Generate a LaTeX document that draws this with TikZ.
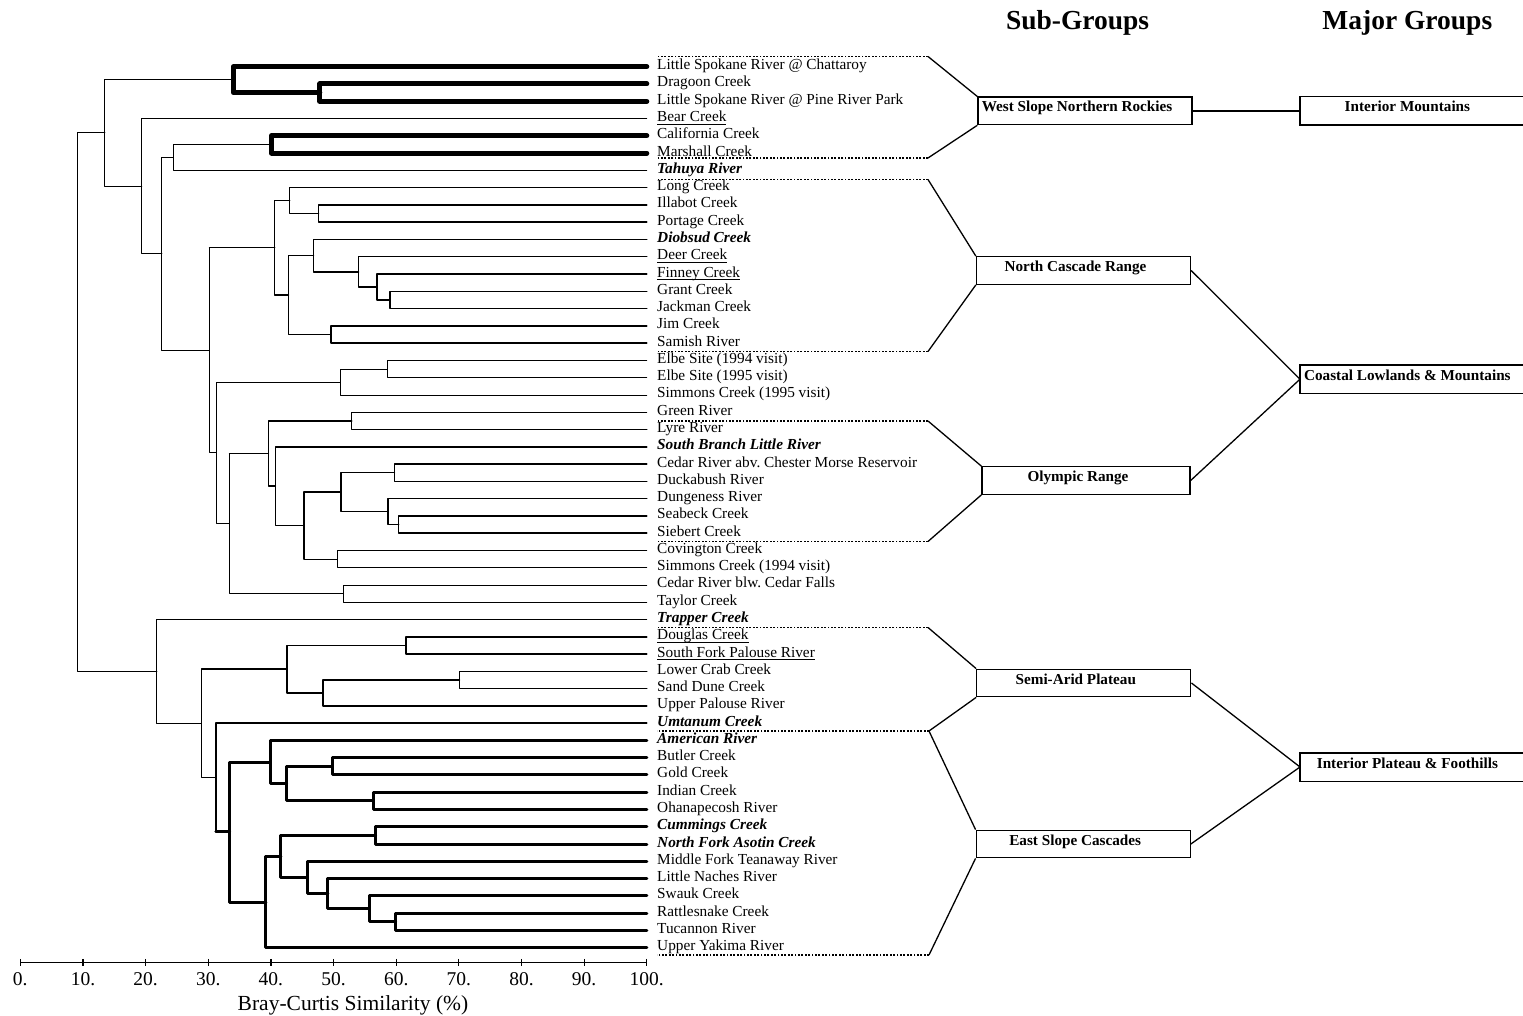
\documentclass[tikz,border=0pt]{standalone}
\usepackage{fontspec}
\setmainfont{Liberation Serif}
\usepackage{tikz}
\frenchspacing
\newcommand{\lf}{\fontsize{7.65pt}{9pt}\selectfont}
\newcommand{\undl}[1]{\underline{\smash{#1}}}
\newcommand{\bi}[1]{\textbf{\textit{#1}}}
\tikzset{
    tn/.style   ={line width=0.4pt, line cap=round, line join=round},
    md/.style   ={line width=0.75pt, line cap=round, line join=round},
    tk/.style   ={line width=1.5pt, line cap=round, line join=round},
    vk/.style   ={line width=2.5pt, line cap=round, line join=round},
    leaf/.style ={anchor=base west, xshift=5pt, yshift=-1.5pt, inner sep=0pt, font=\lf},
    brk/.style  ={line width=0.75pt, dash pattern=on 0.9pt off 0.8pt},
    boxln/.style={line width=0.65pt},
    sgbox/.style={boxln, draw, minimum width=107pt, minimum height=13.75pt,
                  inner ysep=1pt, text height=5pt, text depth=4pt,
                  font=\fontsize{7.6pt}{9pt}\selectfont\bfseries,
                  execute at begin node={\hspace*{-8pt}}},
    mgbox/.style={anchor=west, minimum width=107pt, inner xsep=0pt,
                  inner ysep=1pt, minimum height=13.75pt, text height=5pt, text depth=4pt,
                  font=\fontsize{7.6pt}{9pt}\selectfont\bfseries},
    ttl/.style  ={anchor=base, inner sep=0pt, font=\fontsize{13.75pt}{16pt}\selectfont\bfseries},
    axln/.style ={line width=0.6pt},
    tick/.style ={anchor=base, inner sep=0pt, font=\fontsize{9.75pt}{11pt}\selectfont},
    axttl/.style={anchor=base, inner sep=0pt, font=\fontsize{10.75pt}{12pt}\selectfont}
}

\begin{document}
\begin{tikzpicture}[x=0.5pt, y=-0.5pt]
  \useasboundingbox (0,0) rectangle (1523,1016);
  \clip (0,0) rectangle (1523,1016);

  \begin{scope}[shift={(20.3,49.43)}, x=3.1325pt, y=-8.6375pt]
  % leaves
  \path (100,1)  coordinate (l1)  node[leaf] (t1)  {Little Spokane River @ Chattaroy};
  \path (100,2)  coordinate (l2)  node[leaf] (t2)  {Dragoon Creek};
  \path (100,3)  coordinate (l3)  node[leaf] (t3)  {Little Spokane River @ Pine River Park};
  \path (100,4)  coordinate (l4)  node[leaf] (t4)  {\undl{Bear Creek}};
  \path (100,5)  coordinate (l5)  node[leaf] (t5)  {California Creek};
  \path (100,6)  coordinate (l6)  node[leaf] (t6)  {Marshall Creek};
  \path (100,7)  coordinate (l7)  node[leaf] (t7)  {\bi{Tahuya River}};
  \path (100,8)  coordinate (l8)  node[leaf] (t8)  {Long Creek};
  \path (100,9)  coordinate (l9)  node[leaf] (t9)  {Illabot Creek};
  \path (100,10) coordinate (l10) node[leaf] (t10) {Portage Creek};
  \path (100,11) coordinate (l11) node[leaf] (t11) {\bi{Diobsud Creek}};
  \path (100,12) coordinate (l12) node[leaf] (t12) {\undl{Deer Creek}};
  \path (100,13) coordinate (l13) node[leaf] (t13) {\undl{Finney Creek}};
  \path (100,14) coordinate (l14) node[leaf] (t14) {Grant Creek};
  \path (100,15) coordinate (l15) node[leaf] (t15) {Jackman Creek};
  \path (100,16) coordinate (l16) node[leaf] (t16) {Jim Creek};
  \path (100,17) coordinate (l17) node[leaf] (t17) {Samish River};
  \path (100,18) coordinate (l18) node[leaf] (t18) {Elbe Site (1994 visit)};
  \path (100,19) coordinate (l19) node[leaf] (t19) {Elbe Site (1995 visit)};
  \path (100,20) coordinate (l20) node[leaf] (t20) {Simmons Creek (1995 visit)};
  \path (100,21) coordinate (l21) node[leaf] (t21) {Green River};
  \path (100,22) coordinate (l22) node[leaf] (t22) {Lyre River};
  \path (100,23) coordinate (l23) node[leaf] (t23) {\bi{South Branch Little River}};
  \path (100,24) coordinate (l24) node[leaf] (t24) {Cedar River abv. Chester Morse Reservoir};
  \path (100,25) coordinate (l25) node[leaf] (t25) {Duckabush River};
  \path (100,26) coordinate (l26) node[leaf] (t26) {Dungeness River};
  \path (100,27) coordinate (l27) node[leaf] (t27) {Seabeck Creek};
  \path (100,28) coordinate (l28) node[leaf] (t28) {Siebert Creek};
  \path (100,29) coordinate (l29) node[leaf] (t29) {Covington Creek};
  \path (100,30) coordinate (l30) node[leaf] (t30) {Simmons Creek (1994 visit)};
  \path (100,31) coordinate (l31) node[leaf] (t31) {Cedar River blw. Cedar Falls};
  \path (100,32) coordinate (l32) node[leaf] (t32) {Taylor Creek};
  \path (100,33) coordinate (l33) node[leaf] (t33) {\bi{Trapper Creek}};
  \path (100,34) coordinate (l34) node[leaf] (t34) {\undl{Douglas Creek}};
  \path (100,35) coordinate (l35) node[leaf] (t35) {\undl{South Fork Palouse River}};
  \path (100,36) coordinate (l36) node[leaf] (t36) {Lower Crab Creek};
  \path (100,37) coordinate (l37) node[leaf] (t37) {Sand Dune Creek};
  \path (100,38) coordinate (l38) node[leaf] (t38) {Upper Palouse River};
  \path (100,39) coordinate (l39) node[leaf] (t39) {\bi{Umtanum Creek}};
  \path (100,40) coordinate (l40) node[leaf] (t40) {\bi{American River}};
  \path (100,41) coordinate (l41) node[leaf] (t41) {Butler Creek};
  \path (100,42) coordinate (l42) node[leaf] (t42) {Gold Creek};
  \path (100,43) coordinate (l43) node[leaf] (t43) {Indian Creek};
  \path (100,44) coordinate (l44) node[leaf] (t44) {Ohanapecosh River};
  \path (100,45) coordinate (l45) node[leaf] (t45) {\bi{Cummings Creek}};
  \path (100,46) coordinate (l46) node[leaf] (t46) {\bi{North Fork Asotin Creek}};
  \path (100,47) coordinate (l47) node[leaf] (t47) {Middle Fork Teanaway River};
  \path (100,48) coordinate (l48) node[leaf] (t48) {Little Naches River};
  \path (100,49) coordinate (l49) node[leaf] (t49) {Swauk Creek};
  \path (100,50) coordinate (l50) node[leaf] (t50) {Rattlesnake Creek};
  \path (100,51) coordinate (l51) node[leaf] (t51) {Tucannon River};
  \path (100,52) coordinate (l52) node[leaf] (t52) {Upper Yakima River};

  % merge points (similarity, row)
  \coordinate (n23)   at (47.8,2.5);
  \coordinate (n123)  at (34.0,1.75);
  \coordinate (n56)   at (40.1,5.5);
  \coordinate (n567)  at (24.4,6.25);
  \coordinate (n910)  at (47.6,9.5);
  \coordinate (n8910) at (43.0,8.75);
  \coordinate (n1415) at (59.0,14.5);
  \coordinate (n1315) at (56.9,13.75);
  \coordinate (n1215) at (54.0,12.875);
  \coordinate (n1115) at (46.8,11.94);
  \coordinate (n1617) at (49.6,16.5);
  \coordinate (n1117) at (42.8,14.22);
  \coordinate (n817)  at (40.6,11.48);
  \coordinate (n1819) at (58.6,18.5);
  \coordinate (n1820) at (51.1,19.25);
  \coordinate (n2122) at (52.9,21.5);
  \coordinate (n2728) at (60.4,27.5);
  \coordinate (n2628) at (58.7,26.75);
  \coordinate (n2425) at (59.7,24.5);
  \coordinate (n2428) at (51.2,25.625);
  \coordinate (n2930) at (50.6,29.5);
  \coordinate (n2430) at (45.3,27.56);
  \coordinate (n2330) at (40.7,25.28);
  \coordinate (n2130) at (39.6,23.39);
  \coordinate (n3132) at (51.6,31.5);
  \coordinate (n2132) at (33.4,27.45);
  \coordinate (n1832) at (31.3,23.35);
  \coordinate (n832)  at (30.2,17.42);
  \coordinate (n532)  at (22.6,11.83);
  \coordinate (n432)  at (19.4,7.92);
  \coordinate (n132)  at (13.5,4.83);
  \coordinate (n3435) at (61.6,34.5);
  \coordinate (n3637) at (70.1,36.5);
  \coordinate (n3638) at (48.3,37.25);
  \coordinate (n3438) at (42.6,35.875);
  \coordinate (n4142) at (49.8,41.5);
  \coordinate (n4344) at (56.3,43.5);
  \coordinate (n4144) at (42.5,42.5);
  \coordinate (n4044) at (39.9,41.25);
  \coordinate (n4546) at (56.7,45.5);
  \coordinate (n5051) at (59.9,50.5);
  \coordinate (n4951) at (55.7,49.75);
  \coordinate (n4851) at (49.1,48.875);
  \coordinate (n4751) at (45.8,47.94);
  \coordinate (n4551) at (41.6,46.72);
  \coordinate (n4552) at (39.2,49.36);
  \coordinate (n4052) at (33.4,45.3);
  \coordinate (n3952) at (31.2,42.15);
  \coordinate (n3452) at (28.9,39.01);
  \coordinate (n3352) at (21.8,36.01);
  \coordinate (root)  at (9.1,20.42);

  % west slope northern rockies
  \draw[vk] (n23) |- (l2) (n23) |- (l3);
  \draw[vk] (n123) |- (l1) (n123) |- (n23);
  \draw[vk] (n56) |- (l5) (n56) |- (l6);
  \draw[tn] (n567) |- (n56) (n567) |- (l7);

  % north cascade range
  \draw[md] (n910) |- (l9) (n910) |- (l10);
  \draw[md] (n8910) |- (l8) (n8910) |- (n910);
  \draw[md] (n1415) |- (l14) (n1415) |- (l15);
  \draw[md] (n1315) |- (l13) (n1315) |- (n1415);
  \draw[md] (n1215) |- (l12) (n1215) |- (n1315);
  \draw[md] (n1115) |- (l11) (n1115) |- (n1215);
  \draw[md] (n1617) |- (l16) (n1617) |- (l17);
  \draw[md] (n1117) |- (n1115) (n1117) |- (n1617);
  \draw[md] (n817) |- (n8910) (n817) |- (n1117);

  % elbe / simmons
  \draw[tn] (n1819) |- (l18) (n1819) |- (l19);
  \draw[tn] (n1820) |- (n1819) (n1820) |- (l20);

  % olympic range
  \draw[tn] (n2122) |- (l21);
  \draw[md] (n2122) |- (l22);
  \draw[md] (n2728) |- (l27) (n2728) |- (l28);
  \draw[md] (n2628) |- (l26) (n2628) |- (n2728);
  \draw[md] (n2425) |- (l24) (n2425) |- (l25);
  \draw[md] (n2428) |- (n2425) (n2428) |- (n2628);
  \draw[tn] (n2930) |- (l29) (n2930) |- (l30);
  \draw[md] (n2430) |- (n2428) (n2430) -- (n2430 |- n2930);
  \draw[tn] (n2430 |- n2930) -- (n2930);
  \draw[md] (n2330) |- (l23) (n2330) |- (n2430);
  \draw[md] (n2130) |- (n2122) (n2130) |- (n2330);
  \draw[tn] (n3132) |- (l31) (n3132) |- (l32);
  \draw[tn] (n2132) -- (n2132 |- n2130) (n2132) |- (n3132);
  \draw[md] (n2132 |- n2130) -- (n2130);
  \draw[tn] (n1832) |- (n1820) (n1832) |- (n2132);
  \draw[tn] (n832) -- (n832 |- n817) (n832) |- (n1832);
  \draw[md] (n832 |- n817) -- (n817);
  \draw[tn] (n532) |- (n567) (n532) |- (n832);
  \draw[tn] (n432) |- (l4) (n432) |- (n532);
  \draw[tn] (n132) |- (n123) (n132) |- (n432);

  % semi-arid plateau
  \draw[md] (n3435) |- (l34) (n3435) |- (l35);
  \draw[md] (n3637) |- (l36) (n3637) |- (l37);
  \draw[md] (n3638) |- (n3637) (n3638) |- (l38);
  \draw[md] (n3438) |- (n3435) (n3438) |- (n3638);

  % east slope cascades
  \draw[tk] (n4142) |- (l41) (n4142) |- (l42);
  \draw[tk] (n4344) |- (l43) (n4344) |- (l44);
  \draw[tk] (n4144) |- (n4142) (n4144) |- (n4344);
  \draw[tk] (n4044) |- (l40) (n4044) |- (n4144);
  \draw[tk] (n4546) |- (l45) (n4546) |- (l46);
  \draw[tk] (n5051) |- (l50) (n5051) |- (l51);
  \draw[tk] (n4951) |- (l49) (n4951) |- (n5051);
  \draw[tk] (n4851) |- (l48) (n4851) |- (n4951);
  \draw[tk] (n4751) |- (l47) (n4751) |- (n4851);
  \draw[tk] (n4551) |- (n4546) (n4551) |- (n4751);
  \draw[tk] (n4552) |- (n4551) (n4552) |- (l52);
  \draw[tk] (n4052) |- (n4044) (n4052) |- (n4552);
  \draw[md] (n3952) |- (l39) (n3952) -- (n3952 |- n4052);
  \draw[tk] (n3952 |- n4052) -- (n4052);
  \draw[md] (n3452) |- (n3438) (n3452) |- (n3952);
  \draw[tn] (n3352) |- (l33) (n3352) |- (n3452);
  \draw[tn] (root) |- (n132) (root) |- (n3352);

  % similarity axis
  \draw[axln] (0,52.867) -- (100,52.867)
    (0,52.65) -- (0,53.06)   (10,52.65) -- (10,53.06) (20,52.65) -- (20,53.06)
    (30,52.65) -- (30,53.06) (40,52.65) -- (40,53.06) (50,52.65) -- (50,53.06)
    (60,52.65) -- (60,53.06) (70,52.65) -- (70,53.06) (80,52.65) -- (80,53.06)
    (90,52.65) -- (90,53.06) (100,52.65) -- (100,53.06);
  \node[tick] (x0)   at (0,54.21)   {0.};
  \node[tick] (x10)  at (10,54.21)  {10.};
  \node[tick] (x20)  at (20,54.21)  {20.};
  \node[tick] (x30)  at (30,54.21)  {30.};
  \node[tick] (x40)  at (40,54.21)  {40.};
  \node[tick] (x50)  at (50,54.21)  {50.};
  \node[tick] (x60)  at (60,54.21)  {60.};
  \node[tick] (x70)  at (70,54.21)  {70.};
  \node[tick] (x80)  at (80,54.21)  {80.};
  \node[tick] (x90)  at (90,54.21)  {90.};
  \node[tick] (x100) at (100,54.21) {100.};
  \node[axttl] (axname) at (53.1,55.61) {Bray-Curtis Similarity (\%)};
  \end{scope}

  % group brackets
  \coordinate (ws1) at (928,56.5);  \coordinate (ws2) at (928,158);
  \coordinate (nc1) at (928,179.5); \coordinate (nc2) at (928,351.5);
  \coordinate (ol1) at (928,421);   \coordinate (ol2) at (928,541.5);
  \coordinate (sa1) at (928,627.5); \coordinate (sa2) at (929,731);
  \coordinate (es2) at (929,955);
  \draw[brk] (ws1) -- ++(-271,0) (ws2) -- ++(-271,0);
  \draw[brk] (nc1) -- ++(-271,0) (nc2) -- ++(-271,0);
  \draw[brk] (ol1) -- ++(-271,0) (ol2) -- ++(-271,0);
  \draw[brk] (sa1) -- ++(-271,0) (sa2) -- ++(-272,0);
  \draw[brk] (es2) -- ++(-272,0);

  % titles
  \node[ttl] (subttl) at (1077.6,30) {Sub-Groups};
  \node[ttl] (majttl) at (1407.3,30) {Major Groups};

  % sub-groups
  \node[sgbox] (wsnr) at (1085,110.9)  {West Slope Northern Rockies};
  \node[sgbox] (ncr)  at (1083.5,270.5) {North Cascade Range};
  \node[sgbox, minimum width=104pt] (oly) at (1086,480.5) {Olympic Range};
  \node[sgbox] (sap)  at (1083.8,683)  {Semi-Arid Plateau};
  \node[sgbox] (esc)  at (1083.2,844)  {East Slope Cascades};

  % major groups (open to the right edge)
  \node[mgbox] (imt) at (1300,110.9) {Interior Mountains};
  \node[mgbox] (clm) at (1300,379.2) {Coastal Lowlands \& Mountains};
  \node[mgbox] (ipf) at (1300,767)   {Interior Plateau \& Foothills};
  \draw[boxln] ([xshift=30pt]imt.north east) -| (imt.south west) -- ([xshift=30pt]imt.south east);
  \draw[boxln] ([xshift=30pt]clm.north east) -| (clm.south west) -- ([xshift=30pt]clm.south east);
  \draw[boxln] ([xshift=30pt]ipf.north east) -| (ipf.south west) -- ([xshift=30pt]ipf.south east);

  \draw[boxln] (ws1) -- (wsnr.north west) (ws2) -- (wsnr.south west);
  \draw[boxln] (nc1) -- (ncr.north west)  (nc2) -- (ncr.south west);
  \draw[boxln] (ol1) -- (oly.north west)  (ol2) -- (oly.south west);
  \draw[boxln] (sa1) -- (sap.north west)  (sa2) -- (sap.south west);
  \draw[boxln] (sa2) -- (esc.north west)  (es2) -- (esc.south west);

  \draw[boxln] (wsnr.east) -- (imt.west);
  \draw[boxln] (ncr.east) -- (clm.west);
  \draw[boxln] (oly.east) -- (clm.west);
  \draw[boxln] (sap.east) -- (ipf.west);
  \draw[boxln] (esc.east) -- (ipf.west);
\end{tikzpicture}
\end{document}
